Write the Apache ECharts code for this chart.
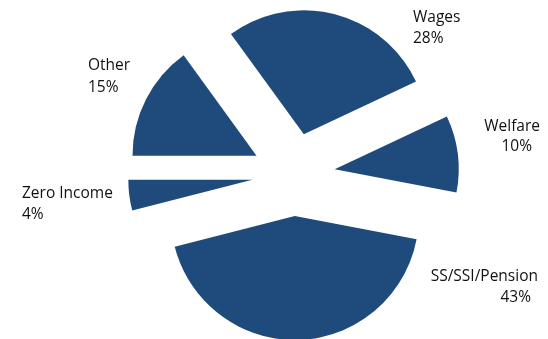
<!DOCTYPE html>
<html>
<head>
<meta charset="utf-8">
<script src="https://cdn.jsdelivr.net/npm/echarts@6/dist/echarts.min.js"></script>
<style>
  html, body { margin: 0; padding: 0; background: #ffffff; }
  #chart { width: 548px; height: 339px; }
</style>
</head>
<body>
<div id="chart"></div>
<script>
// Household income sources, share of total (%)
const categories = ['Wages', 'Welfare', 'SS/SSI/Pension', 'Zero Income', 'Other'];
const shares = [28, 10, 43, 4, 15];

// Label blocks: anchor x, name-line y, percent-line y, alignment, percent-line inset
const labelPlacement = [
  { x: 413, y1: 18,    y2: 38.5,  align: 'left',  inset: 0 },
  { x: 540, y1: 127,   y2: 147,   align: 'right', inset: 8 },
  { x: 538, y1: 277,   y2: 298,   align: 'right', inset: 7 },
  { x: 22,  y1: 194,   y2: 215,   align: 'left',  inset: 0 },
  { x: 88,  y1: 66,    y2: 88,    align: 'left',  inset: 0 }
];

const sliceColor = '#1f4a7c';
const labelFont = '15.5px "Open Sans"';
const labelColor = '#111111';

const total = shares.reduce(function (a, b) { return a + b; }, 0);

function labelTexts() {
  const out = [];
  categories.forEach(function (name, i) {
    const p = labelPlacement[i];
    const pct = Math.round(shares[i] / total * 100) + '%';
    out.push({
      type: 'text', silent: true,
      style: { text: name, x: p.x, y: p.y1, font: labelFont, fill: labelColor,
               textAlign: p.align, textVerticalAlign: 'middle' }
    });
    out.push({
      type: 'text', silent: true,
      style: { text: pct, x: p.align === 'right' ? p.x - p.inset : p.x, y: p.y2,
               font: labelFont, fill: labelColor,
               textAlign: p.align, textVerticalAlign: 'middle' }
    });
  });
  return out;
}

const chart = echarts.init(document.getElementById('chart'), null, { renderer: 'canvas' });

chart.setOption({
  animation: false,
  backgroundColor: '#ffffff',
  graphic: labelTexts(),
  series: [{
    type: 'pie',
    center: [293.5, 174.5],
    radius: 124,
    startAngle: 126,
    clockwise: true,
    selectedMode: 'multiple',
    selectedOffset: 41.5,
    itemStyle: { color: sliceColor },
    emphasis: { disabled: true },
    label: { show: false },
    labelLine: { show: false },
    data: categories.map(function (name, i) {
      return { name: name, value: shares[i], selected: true };
    })
  }]
});
</script>
</body>
</html>
